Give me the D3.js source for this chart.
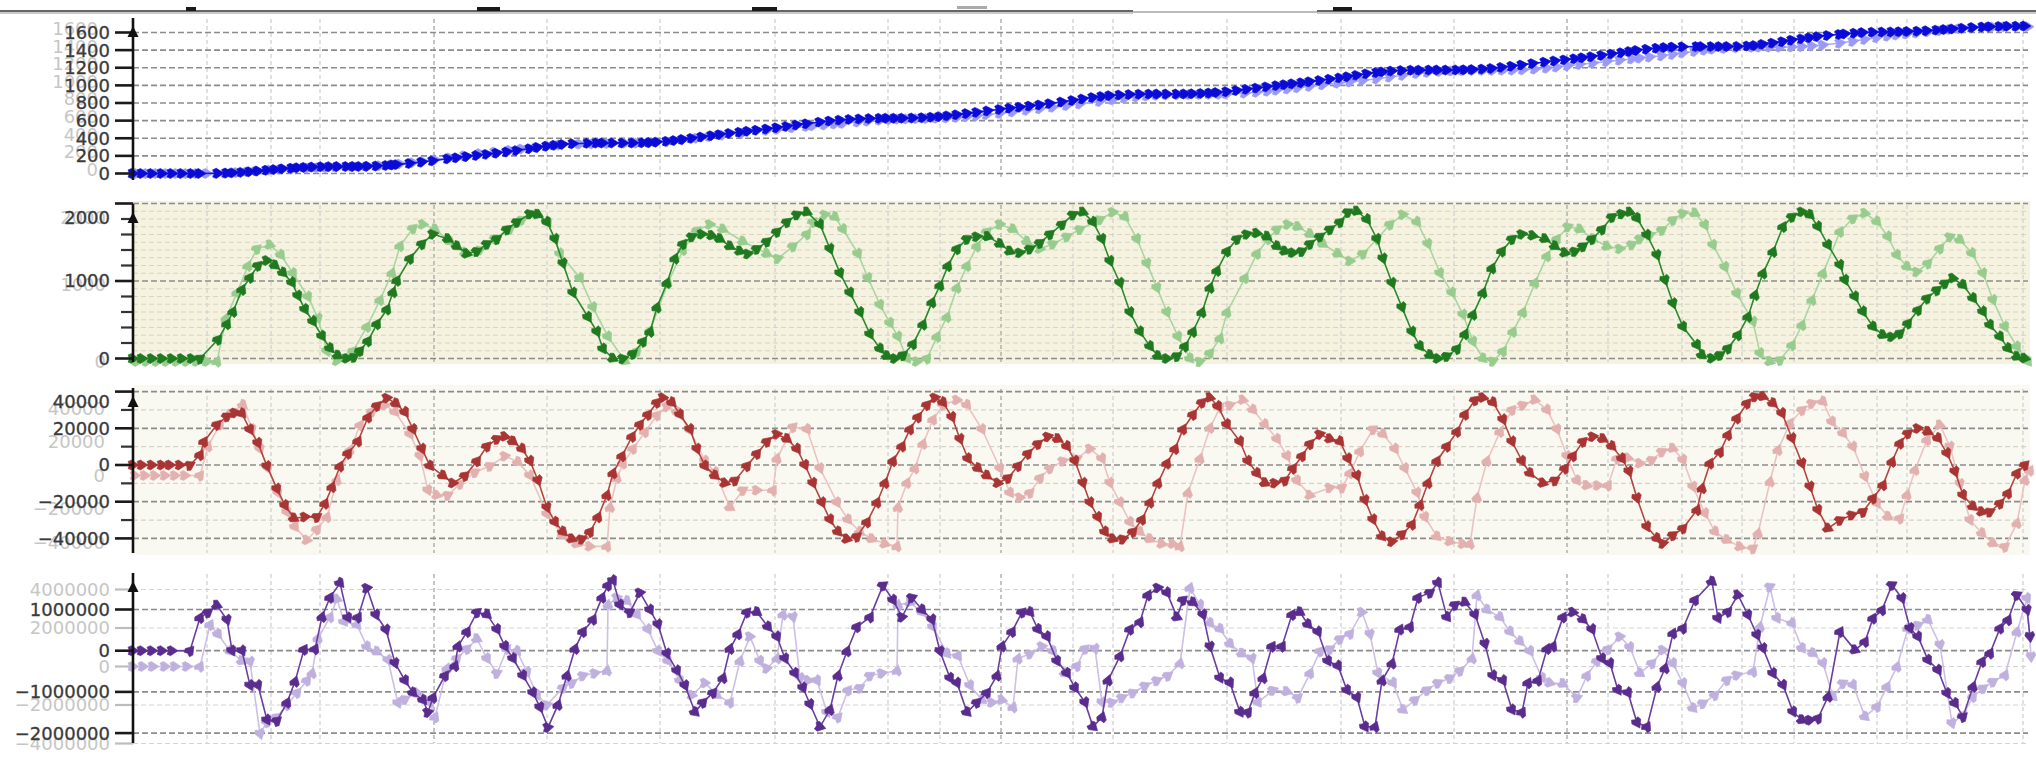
<!DOCTYPE html>
<html><head><meta charset="utf-8">
<script src="https://cdn.jsdelivr.net/npm/d3@7"></script>
<style>
html,body{margin:0;padding:0;background:#fff;}
svg{display:block;}
text{font-family:"DejaVu Sans",sans-serif;}
</style></head><body>
<svg id="chart" width="2036" height="765"></svg>
<script>
// ---------- DATA: [time (ms), value] ----------
const positionDark = [[0,0],[9,0],[19,0],[29,0],[39,0],[49,0],[59,0],[67,0],[85,2],[94,5],[100,8],[109,14],[117,21],[125,29],[134,38],[142,46],[150,54],[159,61],[165,66],[172,70],[180,74],[189,77],[197,78],[205,79],[214,79],[221,80],[227,80],[235,82],[244,86],[254,92],[260,98],[264,102],[277,115],[289,130],[300,145],[315,168],[324,180],[334,193],[344,206],[354,219],[364,232],[374,246],[384,262],[397,283],[405,297],[414,311],[422,322],[430,331],[440,338],[455,343],[464,345],[470,346],[480,346],[490,346],[500,347],[510,349],[517,352],[524,357],[534,366],[542,376],[550,388],[559,401],[569,416],[579,431],[587,443],[597,457],[607,470],[615,481],[624,493],[634,507],[644,521],[654,536],[664,552],[674,566],[687,585],[697,597],[707,607],[717,615],[727,620],[737,624],[747,626],[754,627],[762,627],[770,628],[780,630],[790,634],[799,640],[807,647],[815,656],[824,668],[834,682],[844,696],[855,712],[867,729],[877,742],[887,754],[897,767],[907,780],[917,795],[929,813],[940,831],[950,848],[960,864],[969,876],[977,885],[987,892],[997,897],[1007,900],[1017,901],[1025,902],[1034,902],[1044,902],[1052,903],[1060,905],[1069,909],[1077,914],[1084,920],[1094,930],[1104,943],[1114,957],[1124,971],[1134,985],[1144,999],[1152,1010],[1160,1020],[1169,1032],[1177,1043],[1187,1057],[1197,1072],[1207,1087],[1215,1100],[1224,1116],[1234,1133],[1244,1147],[1250,1155],[1259,1163],[1269,1169],[1279,1172],[1287,1173],[1297,1174],[1305,1174],[1314,1174],[1324,1175],[1332,1177],[1340,1180],[1350,1186],[1359,1194],[1369,1206],[1379,1219],[1389,1233],[1400,1249],[1412,1266],[1422,1279],[1432,1291],[1442,1304],[1450,1315],[1459,1327],[1469,1342],[1479,1357],[1489,1373],[1497,1387],[1504,1398],[1514,1412],[1524,1423],[1532,1430],[1540,1435],[1550,1438],[1564,1440],[1569,1440],[1579,1440],[1587,1440],[1595,1441],[1605,1443],[1615,1448],[1622,1454],[1630,1468],[1640,1482],[1650,1498],[1659,1515],[1669,1530],[1677,1543],[1685,1555],[1695,1567],[1707,1580],[1712,1585],[1722,1594],[1730,1600],[1740,1604],[1750,1606],[1759,1607],[1767,1609],[1775,1612],[1785,1616],[1794,1621],[1804,1628],[1812,1635],[1820,1642],[1830,1650],[1840,1657],[1850,1663],[1857,1666],[1867,1669],[1875,1671],[1884,1672],[1892,1673]];

const positionLight = [[4,0],[14,0],[24,0],[34,0],[44,0],[54,0],[64,0],[74,0],[84,0],[93,4],[104,12],[115,22],[124,30],[137,40],[148,48],[160,56],[175,62],[185,65],[194,67],[204,70],[220,75],[234,80],[247,90],[259,102],[267,110],[280,124],[290,137],[302,155],[317,180],[332,205],[347,228],[362,245],[377,265],[389,280],[404,300],[415,315],[427,326],[447,334],[460,337],[475,340],[492,343],[504,345],[517,350],[535,365],[550,385],[564,402],[577,420],[590,436],[610,460],[634,490],[645,503],[660,520],[674,535],[680,542],[692,552],[702,562],[710,570],[725,585],[735,595],[747,605],[757,612],[765,617],[774,620],[784,622],[794,624],[804,627],[814,631],[824,637],[834,645],[844,655],[854,667],[867,683],[880,700],[894,718],[907,735],[920,752],[934,772],[947,790],[967,818],[980,838],[992,855],[1004,870],[1014,880],[1024,887],[1034,891],[1045,894],[1057,895],[1067,896],[1077,897],[1087,899],[1094,902],[1112,912],[1124,922],[1135,934],[1144,946],[1155,960],[1165,974],[1177,990],[1190,1007],[1205,1026],[1217,1040],[1230,1056],[1244,1075],[1257,1095],[1270,1115],[1284,1135],[1295,1148],[1307,1158],[1319,1164],[1330,1167],[1340,1169],[1350,1170],[1360,1170],[1370,1171],[1380,1173],[1390,1177],[1402,1185],[1414,1196],[1424,1208],[1435,1222],[1447,1237],[1460,1253],[1474,1270],[1487,1286],[1499,1300],[1507,1310],[1517,1322],[1529,1336],[1540,1352],[1550,1368],[1562,1386],[1572,1400],[1580,1410],[1592,1420],[1604,1427],[1620,1432],[1627,1433],[1637,1434],[1647,1434],[1659,1436],[1669,1440],[1679,1447],[1690,1458],[1707,1480],[1720,1500],[1732,1522],[1744,1543],[1755,1560],[1764,1572],[1774,1584],[1784,1595],[1795,1608],[1807,1622],[1817,1635],[1827,1645],[1839,1654],[1850,1660],[1860,1663],[1872,1665],[1884,1666],[1895,1666]];

const velocityDark = [[0,0],[9,0],[19,0],[29,0],[39,0],[49,0],[59,0],[67,0],[85,245],[94,446],[100,604],[109,888],[117,1045],[125,1200],[134,1265],[142,1200],[150,1107],[159,980],[165,810],[172,635],[180,478],[189,290],[197,132],[205,38],[214,0],[221,20],[227,100],[235,226],[244,446],[254,635],[260,855],[264,1006],[277,1290],[289,1479],[300,1605],[315,1542],[324,1448],[334,1352],[344,1384],[354,1479],[364,1542],[374,1667],[384,1761],[397,1868],[405,1857],[414,1761],[422,1542],[430,1227],[440,849],[455,535],[464,346],[470,125],[480,0],[490,0],[500,62],[510,219],[517,346],[524,660],[534,975],[542,1290],[550,1479],[559,1573],[569,1605],[579,1586],[587,1542],[597,1448],[607,1384],[615,1352],[624,1415],[634,1510],[644,1636],[654,1761],[664,1857],[674,1888],[687,1730],[697,1415],[707,1101],[717,849],[727,597],[737,315],[747,125],[754,31],[762,0],[770,44],[780,188],[790,440],[799,724],[807,943],[815,1195],[824,1415],[834,1542],[844,1573],[855,1573],[867,1479],[877,1384],[887,1365],[897,1415],[907,1492],[917,1605],[929,1730],[940,1857],[950,1888],[960,1761],[969,1542],[977,1258],[987,975],[997,597],[1007,346],[1017,157],[1025,31],[1034,0],[1044,31],[1052,157],[1060,346],[1069,597],[1077,912],[1084,1133],[1094,1384],[1104,1542],[1114,1605],[1124,1617],[1134,1573],[1144,1448],[1152,1384],[1160,1365],[1169,1384],[1177,1479],[1187,1573],[1197,1667],[1207,1761],[1215,1888],[1224,1900],[1234,1794],[1244,1542],[1250,1290],[1259,975],[1269,660],[1279,346],[1287,157],[1297,44],[1305,0],[1314,31],[1324,125],[1332,315],[1340,566],[1350,849],[1359,1164],[1369,1384],[1379,1542],[1389,1605],[1400,1586],[1412,1542],[1422,1448],[1432,1365],[1442,1384],[1450,1448],[1459,1542],[1469,1667],[1479,1826],[1489,1868],[1497,1888],[1504,1809],[1514,1594],[1524,1335],[1532,1013],[1540,712],[1550,410],[1564,174],[1569,45],[1579,3],[1587,45],[1595,131],[1605,303],[1615,540],[1622,819],[1630,1099],[1640,1378],[1650,1701],[1659,1830],[1669,1894],[1677,1852],[1685,1701],[1695,1465],[1707,1206],[1712,1013],[1722,798],[1730,604],[1740,410],[1750,303],[1759,281],[1767,325],[1775,454],[1785,626],[1794,777],[1804,884],[1812,970],[1820,1035],[1830,948],[1840,777],[1850,604],[1857,432],[1867,281],[1875,131],[1884,23],[1892,3]];

const velocityLight = [[4,0],[14,0],[24,0],[34,0],[44,0],[54,0],[64,0],[74,0],[84,0],[93,560],[104,894],[115,1242],[124,1464],[137,1513],[148,1383],[160,1145],[175,841],[185,560],[194,134],[204,10],[220,136],[234,452],[247,799],[259,1149],[267,1500],[280,1730],[290,1781],[302,1717],[317,1560],[332,1420],[347,1450],[362,1600],[377,1720],[389,1840],[404,1908],[415,1800],[427,1400],[447,1084],[460,704],[475,323],[492,6],[504,134],[517,400],[535,1021],[550,1450],[564,1700],[577,1781],[590,1717],[610,1558],[634,1400],[645,1338],[660,1496],[674,1655],[680,1812],[692,1908],[702,1877],[710,1717],[725,1400],[735,1084],[747,735],[757,500],[765,323],[774,39],[784,0],[794,39],[804,323],[814,578],[824,957],[834,1242],[844,1496],[854,1686],[867,1781],[880,1717],[894,1558],[907,1464],[920,1527],[934,1622],[947,1717],[967,1844],[980,1939],[992,1877],[1004,1591],[1014,1274],[1024,957],[1034,640],[1045,323],[1057,39],[1067,0],[1077,110],[1087,300],[1094,640],[1112,1084],[1124,1400],[1135,1591],[1144,1717],[1155,1781],[1165,1749],[1177,1655],[1190,1527],[1205,1400],[1217,1305],[1230,1400],[1244,1591],[1257,1781],[1270,1908],[1284,1812],[1295,1527],[1307,1147],[1319,894],[1330,609],[1340,260],[1350,39],[1360,6],[1370,134],[1380,387],[1390,640],[1402,1021],[1414,1369],[1424,1591],[1435,1749],[1447,1717],[1460,1591],[1474,1496],[1487,1464],[1499,1520],[1507,1595],[1517,1643],[1529,1708],[1540,1838],[1550,1925],[1562,1925],[1572,1773],[1580,1513],[1592,1227],[1604,881],[1620,517],[1627,106],[1637,0],[1647,19],[1659,214],[1669,474],[1679,799],[1690,1145],[1707,1686],[1720,1860],[1732,1925],[1744,1816],[1755,1621],[1764,1383],[1774,1231],[1784,1166],[1795,1275],[1807,1470],[1817,1621],[1827,1578],[1839,1405],[1850,1145],[1860,799],[1872,452],[1884,192],[1895,0]];

const accelerationDark = [[0,0],[9,0],[19,0],[29,0],[37,0],[47,0],[57,0],[67,5500],[71,12700],[84,22000],[94,26500],[102,28500],[109,28000],[117,19300],[125,12000],[134,-700],[144,-13000],[152,-22000],[161,-29000],[172,-28300],[184,-28300],[192,-21000],[199,-12000],[207,-700],[215,6300],[225,13000],[235,26000],[244,32300],[254,36500],[263,33500],[272,28800],[280,19500],[289,8800],[297,-500],[310,-5800],[320,-9800],[332,-5800],[344,2200],[354,10200],[364,14200],[372,15500],[380,12800],[389,8800],[397,2200],[405,-8400],[414,-23100],[422,-31100],[430,-36400],[439,-40300],[449,-40300],[457,-36400],[465,-28400],[474,-16400],[480,-4500],[489,4900],[499,15500],[507,22100],[515,27500],[524,34100],[530,36700],[539,34100],[547,27500],[557,19500],[564,8800],[572,-500],[582,-5800],[592,-9800],[602,-8400],[614,-500],[624,6200],[634,12800],[644,16800],[654,14200],[664,8800],[672,0],[680,-9800],[689,-20400],[697,-29700],[705,-36400],[714,-40300],[724,-39000],[734,-31100],[744,-20400],[752,-9800],[760,2200],[769,10200],[777,19500],[785,26100],[794,32800],[802,36700],[810,34100],[819,26100],[827,14200],[835,3500],[845,-1800],[854,-5800],[865,-9800],[875,-7100],[885,-500],[895,6200],[905,11500],[915,15500],[925,14200],[934,10200],[942,2200],[950,-9800],[957,-20400],[965,-28400],[972,-36400],[980,-40300],[990,-40300],[1000,-36400],[1009,-29700],[1017,-20400],[1025,-9800],[1034,900],[1042,8800],[1050,19500],[1060,27500],[1069,34100],[1077,36700],[1085,32000],[1094,22100],[1107,12800],[1115,2200],[1124,-4500],[1132,-9800],[1142,-9800],[1152,-8400],[1160,-1800],[1169,4900],[1177,11500],[1187,16800],[1197,14200],[1207,12800],[1215,3500],[1224,-5800],[1232,-19100],[1240,-29700],[1249,-39000],[1259,-41700],[1269,-37700],[1279,-32400],[1287,-21700],[1295,-9800],[1304,2200],[1314,10200],[1324,18200],[1332,27500],[1342,35400],[1350,36700],[1360,34100],[1370,24800],[1379,12800],[1389,2200],[1397,-4500],[1410,-9800],[1422,-8400],[1432,-1800],[1440,4900],[1450,12800],[1460,15500],[1470,14200],[1479,10200],[1489,3500],[1496,-3500],[1504,-18000],[1514,-33600],[1524,-40000],[1530,-42700],[1540,-38200],[1550,-34500],[1564,-24500],[1569,-12700],[1577,900],[1587,7200],[1595,16400],[1604,25500],[1614,33600],[1622,37300],[1630,37300],[1640,33600],[1649,28200],[1659,14600],[1669,900],[1677,-11800],[1685,-24500],[1695,-34500],[1707,-30000],[1719,-27200],[1730,-25500],[1740,-18100],[1750,-10900],[1759,1800],[1767,11800],[1775,17300],[1785,20000],[1795,18200],[1805,14600],[1814,6400],[1822,-3600],[1830,-16400],[1840,-22700],[1849,-25500],[1857,-25500],[1867,-20900],[1875,-15400],[1884,-4500],[1892,0]];

const accelerationLight = [[2,0],[12,0],[22,0],[32,0],[42,0],[52,0],[67,0],[75,17400],[87,30500],[99,37800],[110,42100],[119,27600],[127,15900],[135,4300],[145,-10300],[154,-21900],[162,-30600],[174,-38500],[184,-32100],[194,-24800],[204,-2700],[217,15200],[227,30100],[239,38000],[252,42000],[262,38000],[277,24700],[287,11600],[295,-8800],[304,-11700],[315,-11700],[327,-5000],[342,2000],[357,5700],[372,11600],[385,8000],[397,0],[414,-23000],[430,-36000],[444,-40800],[457,-42300],[474,-42300],[477,-19000],[484,-1500],[490,7200],[500,16000],[512,26000],[524,36000],[534,41000],[544,38000],[557,27000],[572,8700],[582,2000],[597,-19000],[610,-8800],[624,-8800],[640,-8800],[644,10100],[660,29000],[674,27600],[687,4300],[704,-16100],[715,-26300],[727,-33600],[739,-37900],[752,-40800],[764,-42300],[765,-19000],[774,-4400],[782,4300],[790,18900],[800,33400],[810,42100],[824,45100],[834,42100],[849,27600],[867,4300],[877,-10300],[887,-13200],[897,-10300],[907,-1500],[917,4300],[930,8700],[944,10100],[957,15900],[969,10100],[977,-4400],[987,-16100],[997,-27800],[1007,-33600],[1017,-37900],[1029,-40800],[1040,-40800],[1047,-42300],[1055,-10300],[1067,10100],[1077,28400],[1087,40700],[1097,42100],[1110,45100],[1120,39200],[1132,30500],[1144,21800],[1154,11600],[1164,-3000],[1177,-11700],[1197,-7300],[1209,-7300],[1217,1400],[1227,14500],[1240,27600],[1250,24700],[1262,15900],[1272,4300],[1284,-10300],[1292,-24800],[1304,-36500],[1317,-39400],[1330,-40800],[1337,-40800],[1344,-13200],[1354,8700],[1367,26100],[1379,39200],[1390,42100],[1402,45100],[1414,39200],[1424,27600],[1434,11600],[1444,-3000],[1454,-5900],[1465,-5900],[1475,-5900],[1484,10100],[1495,10500],[1507,7300],[1519,9300],[1529,14200],[1540,16200],[1550,9300],[1560,-6700],[1572,-22600],[1582,-33500],[1594,-38500],[1607,-42500],[1620,-43500],[1625,-34500],[1637,-3700],[1645,15200],[1657,31200],[1669,39100],[1679,43100],[1690,44100],[1699,32100],[1710,25200],[1720,17200],[1732,-700],[1744,-16600],[1755,-24600],[1767,-25600],[1774,-11600],[1782,3300],[1794,21200],[1807,30100],[1817,17200],[1827,-5000],[1837,-26600],[1849,-34500],[1860,-40500],[1872,-42500],[1884,-28500],[1892,-2700],[1897,3000]];

const jerkDark = [[0,0],[9,0],[19,0],[29,0],[39,0],[57,0],[67,800000],[75,930000],[84,1100000],[94,750000],[99,0],[109,0],[117,-840000],[125,-840000],[134,-1680000],[144,-1700000],[154,-1260000],[162,-750000],[171,30000],[182,40000],[189,820000],[197,1290000],[207,1640000],[215,800000],[225,810000],[234,1520000],[243,870000],[253,510000],[262,-300000],[272,-723000],[280,-1019000],[290,-1197000],[295,-1493000],[300,-1138000],[312,-604000],[322,-369000],[325,107000],[334,461000],[344,934000],[354,876000],[364,519000],[372,107000],[380,-189000],[390,-604000],[400,-1019000],[407,-1374000],[415,-1862000],[425,-1316000],[434,-604000],[442,46000],[450,461000],[460,757000],[469,1289000],[475,1585000],[480,1704000],[487,1112000],[497,934000],[507,1408000],[517,993000],[525,638000],[534,-73000],[544,-485000],[552,-842000],[562,-1493000],[570,-1255000],[580,-1019000],[590,-663000],[597,46000],[605,403000],[614,934000],[624,934000],[635,580000],[644,342000],[652,-189000],[662,-546000],[670,-900000],[677,-1300000],[687,-1847000],[697,-1434000],[705,-604000],[714,-12000],[724,580000],[737,815000],[750,1585000],[760,1231000],[769,815000],[779,1289000],[789,993000],[799,757000],[807,-12000],[817,-663000],[824,-781000],[834,-1493000],[844,-1255000],[854,-1019000],[864,-604000],[869,107000],[879,461000],[889,934000],[897,934000],[905,519000],[914,342000],[924,-250000],[934,-546000],[942,-900000],[952,-1255000],[960,-1847000],[969,-1612000],[975,-723000],[987,-131000],[997,519000],[1007,697000],[1015,1349000],[1025,1527000],[1034,1408000],[1044,815000],[1050,1231000],[1060,1172000],[1070,876000],[1077,100000],[1087,-663000],[1097,-781000],[1107,-1493000],[1115,-1493000],[1122,-1019000],[1130,-663000],[1139,107000],[1149,107000],[1159,876000],[1167,934000],[1175,638000],[1185,461000],[1195,-250000],[1205,-369000],[1214,-959000],[1224,-1138000],[1232,-1847000],[1242,-1847000],[1249,-723000],[1259,-308000],[1267,519000],[1277,580000],[1285,1289000],[1297,1408000],[1305,1646000],[1314,815000],[1322,1112000],[1332,1172000],[1342,876000],[1352,165000],[1360,-604000],[1370,-723000],[1379,-1434000],[1389,-1493000],[1395,-781000],[1405,-723000],[1414,46000],[1420,107000],[1430,815000],[1440,934000],[1450,757000],[1459,519000],[1469,-189000],[1477,-308000],[1485,-959000],[1495,-1019000],[1504,-1750000],[1514,-1845000],[1524,-874000],[1532,-427000],[1540,422000],[1550,544000],[1562,1231000],[1579,1675000],[1585,786000],[1595,947000],[1605,1352000],[1615,867000],[1624,381000],[1630,58000],[1640,-549000],[1650,-833000],[1660,-1481000],[1669,-1682000],[1677,-1682000],[1685,-1641000],[1695,-1117000],[1707,461000],[1722,17000],[1732,218000],[1740,786000],[1749,988000],[1759,1595000],[1769,1272000],[1777,544000],[1785,340000],[1795,-226000],[1805,-468000],[1814,-1034000],[1822,-1277000],[1830,-1602000],[1840,-874000],[1849,-267000],[1857,-63000],[1867,544000],[1875,745000],[1884,1352000],[1894,988000],[1897,340000]];

const jerkLight = [[0,0],[10,0],[20,0],[32,0],[42,0],[54,0],[67,0],[77,2170000],[85,1683000],[97,795000],[109,286000],[117,249000],[127,-3500000],[134,-2883000],[144,-2629000],[154,-2000000],[164,-1361000],[174,-727000],[179,-353000],[185,1465000],[197,2566000],[204,3500000],[211,2327000],[224,2156000],[234,1029000],[244,769000],[255,338000],[265,-1900000],[272,-1700000],[284,-1361000],[297,-1865000],[302,-2629000],[314,-94000],[324,416000],[334,919000],[344,1429000],[354,416000],[364,-348000],[374,919000],[384,795000],[394,-300000],[404,-1486000],[414,-1995000],[430,-1106000],[439,-852000],[450,-473000],[462,-348000],[474,-218000],[475,3200000],[484,3579000],[494,3400000],[504,2696000],[515,1932000],[525,795000],[535,286000],[547,-727000],[559,-1486000],[572,-852000],[584,-1486000],[597,-1865000],[607,286000],[617,1553000],[627,286000],[634,-94000],[644,416000],[650,2696000],[660,2566000],[667,-597000],[675,-727000],[684,-727000],[694,-2374000],[705,-2629000],[715,-1231000],[727,-1106000],[737,-473000],[749,-348000],[764,-218000],[765,3200000],[777,3330000],[789,2821000],[800,2062000],[814,665000],[825,540000],[837,-982000],[849,-1740000],[859,-1865000],[869,-1740000],[880,-2120000],[885,416000],[897,665000],[909,1049000],[920,800000],[932,-348000],[944,31000],[952,919000],[962,919000],[969,-1865000],[979,-1865000],[989,-1615000],[1000,-1361000],[1012,-1000000],[1024,-727000],[1035,-473000],[1047,161000],[1057,4088000],[1067,3200000],[1077,2250000],[1087,1950000],[1097,1174000],[1109,665000],[1119,416000],[1125,-1865000],[1140,-1231000],[1154,-1300000],[1165,-1615000],[1177,-348000],[1187,795000],[1197,900000],[1207,1429000],[1217,1700000],[1229,2821000],[1237,1683000],[1245,-348000],[1260,-852000],[1270,-2249000],[1282,-1740000],[1294,-1231000],[1305,-852000],[1317,-600000],[1327,-218000],[1339,416000],[1344,3709000],[1354,2945000],[1367,2566000],[1377,1808000],[1387,1300000],[1397,795000],[1409,-597000],[1417,-852000],[1430,-900000],[1444,-1615000],[1454,-473000],[1464,286000],[1475,900000],[1487,1553000],[1497,1000000],[1507,-350000],[1519,166000],[1530,857000],[1540,166000],[1550,-873000],[1560,-2171000],[1570,-1912000],[1582,-1481000],[1594,-701000],[1604,-442000],[1620,-270000],[1627,2067000],[1637,4145000],[1644,2504000],[1659,2244000],[1669,945000],[1680,686000],[1690,166000],[1700,-1569000],[1710,-873000],[1720,-961000],[1732,-2608000],[1744,-2088000],[1754,-1049000],[1764,-10000],[1775,1984000],[1785,2156000],[1795,2416000],[1807,1117000],[1819,-2951000],[1830,-2519000],[1840,-1569000],[1850,-1133000],[1860,-790000],[1872,-442000],[1884,1808000],[1894,3543000],[1898,509000]];

// axis tick values
const positionTicks = [0,200,400,600,800,1000,1200,1400,1600];
const velocityTicks = [0,1000,2000];
const accelerationTicks = [40000,20000,0,-20000,-40000];
const jerkTicksDark = [1000000,0,-1000000,-2000000];
const jerkTicksLight = [4000000,2000000,0,-2000000,-4000000];
// time grid (ms)
const timeGrid = [74,138,187,301,414,527,642,755,807,868,940,980,1094,1208,1321,1434,1475,1549,1609,1661,1744,1774,1890];
const timeGridMajor = [301,868,1434];

// ---------- DRAW ----------
const svg = d3.select('#chart');
const AXX = 133, RIGHT = 2028;
const x = d3.scaleLinear().domain([0,1900]).range([133,2033]);

// top bar remnant
svg.append('rect').attr('x',0).attr('y',10).attr('width',1133).attr('height',2).attr('fill','#666');
svg.append('rect').attr('x',0).attr('y',12).attr('width',1133).attr('height',2).attr('fill','#c9c9c9');
svg.append('rect').attr('x',1133).attr('y',11).attr('width',184).attr('height',2).attr('fill','#bbb');
svg.append('rect').attr('x',1317).attr('y',10).attr('width',719).attr('height',2).attr('fill','#666');
svg.append('rect').attr('x',1317).attr('y',12).attr('width',719).attr('height',2).attr('fill','#c9c9c9');
[[186,10],[477,23],[752,25],[1333,19]].forEach(d=>svg.append('rect').attr('x',d[0]).attr('y',7).attr('width',d[1]).attr('height',4).attr('fill','#1a1a1a'));
svg.append('rect').attr('x',957).attr('y',6).attr('width',30).attr('height',3).attr('fill','#aaa');

const panels = [
  {top:18,bottom:180,bg:null,
   yD:d3.scaleLinear().domain([0,1600]).range([173.5,32.5]),
   yL:d3.scaleLinear().domain([0,1600]).range([173.5,32.5]),
   major:positionTicks, faint:[], ticksMajor:positionTicks, ticksMinor:[],
   labels:positionTicks, ghost:positionTicks, ghostDx:-12, ghostDy:-4, ghostTicks:[],
   dark:positionDark, light:positionLight,
   cD:'#1616ee', mD:'#0b0bd8', cL:'#a9a9ff', mL:'#9a9af6'},
  {top:204,bottom:362,bg:[201,364,'#f5f2df'],
   yD:d3.scaleLinear().domain([0,2000]).range([358.5,203.5]),
   yL:d3.scaleLinear().domain([0,2000]).range([361.5,207.5]),
   major:velocityTicks, faint:d3.range(100,2000,100).filter(v=>v%1000), ticksMajor:velocityTicks, ticksMinor:d3.range(200,2000,200).filter(v=>v%1000),
   labels:velocityTicks, ghost:velocityTicks, ghostDx:-4, ghostDy:0, ghostTicks:[],
   dark:velocityDark, light:velocityLight,
   cD:'#2b8a2b', mD:'#1f7a1f', cL:'#a9d6a0', mL:'#98cc8e'},
  {top:388,bottom:553,bg:[385,555,'#faf9f1'],
   yD:d3.scaleLinear().domain([-40000,40000]).range([538.4,391.6]),
   yL:d3.scaleLinear().domain([-40000,40000]).range([542.5,408.5]),
   major:accelerationTicks, faint:[30000,10000,-10000,-30000], ticksMajor:accelerationTicks, ticksMinor:[30000,10000,-10000,-30000],
   labels:accelerationTicks, ghost:accelerationTicks, ghostDx:-5, ghostDy:0, ghostTicks:[],
   dark:accelerationDark, light:accelerationLight,
   cD:'#b4453f', mD:'#a83434', cL:'#ebc3c3', mL:'#e3b0b0'},
  {top:573,bottom:743,bg:null,
   yD:d3.scaleLinear().domain([-2000000,1000000]).range([733.1,609.5]),
   yL:d3.scaleLinear().domain([-4000000,4000000]).range([743.5,589.5]),
   major:jerkTicksDark, faint:[], faintL:jerkTicksLight, ticksMajor:jerkTicksDark, ticksMinor:[],
   labels:jerkTicksDark, ghost:jerkTicksLight, ghostDx:0, ghostDy:0, ghostTicks:jerkTicksLight,
   dark:jerkDark, light:jerkLight,
   cD:'#6a3e9e', mD:'#5a2c8e', cL:'#cdbfe5', mL:'#c0b0de'}
];

// chunky arrow-like marker pointing along the line
const markerPath = 'M6,0L-1.5,-5L-5,-3.5L-3.5,0L-5,3.5L-1.5,5Z';

function drawSeries(g, data, y, lineColor, markColor){
  const pts = data.map(d=>[x(d[0]), y(d[1])]);
  g.append('path').attr('d', d3.line()(pts)).attr('fill','none')
    .attr('stroke', lineColor).attr('stroke-width',1.6);
  g.selectAll(null).data(pts).enter().append('path')
    .attr('d', markerPath)
    .attr('fill', markColor)
    .attr('stroke', markColor).attr('stroke-width',0.6)
    .attr('transform', (p,i)=>{
      const a = pts[Math.max(0,i-1)], b = pts[Math.min(pts.length-1,i+1)];
      const ang = Math.atan2(b[1]-a[1], b[0]-a[0])*180/Math.PI;
      return `translate(${p[0]},${p[1]}) rotate(${ang})`;
    });
}

panels.forEach(p=>{
  const g = svg.append('g');
  if (p.bg) g.append('rect').attr('x',AXX).attr('y',p.bg[0]).attr('width',RIGHT-AXX+2).attr('height',p.bg[1]-p.bg[0]).attr('fill',p.bg[2]);
  g.selectAll(null).data(timeGrid).enter().append('line')
    .attr('x1',d=>x(d)).attr('x2',d=>x(d)).attr('y1',p.top+1).attr('y2',p.bottom)
    .attr('stroke',d=>timeGridMajor.includes(d)?'#a5a5a5':'#d2d2d2')
    .attr('stroke-width',1.3).attr('stroke-dasharray','4,3');
  g.selectAll(null).data(p.faint).enter().append('line')
    .attr('x1',AXX).attr('x2',RIGHT).attr('y1',d=>p.yD(d)).attr('y2',d=>p.yD(d))
    .attr('stroke','#d6d4c6').attr('stroke-width',1.2).attr('stroke-dasharray','5,3');
  if (p.faintL) g.selectAll(null).data(p.faintL).enter().append('line')
    .attr('x1',AXX).attr('x2',RIGHT).attr('y1',d=>p.yL(d)).attr('y2',d=>p.yL(d))
    .attr('stroke','#d4d4d4').attr('stroke-width',1.2).attr('stroke-dasharray','5,3');
  g.selectAll(null).data(p.major).enter().append('line')
    .attr('x1',AXX).attr('x2',RIGHT).attr('y1',d=>p.yD(d)).attr('y2',d=>p.yD(d))
    .attr('stroke','#8c8c8c').attr('stroke-width',1.7).attr('stroke-dasharray','6,3');
  drawSeries(g, p.light, p.yL, p.cL, p.mL);
  drawSeries(g, p.dark, p.yD, p.cD, p.mD);
  g.selectAll(null).data(p.ghostTicks).enter().append('line')
    .attr('x1',115).attr('x2',AXX).attr('y1',d=>p.yL(d)).attr('y2',d=>p.yL(d))
    .attr('stroke','#bdbdbd').attr('stroke-width',2.2);
  g.selectAll(null).data(p.ticksMinor).enter().append('line')
    .attr('x1',121).attr('x2',AXX).attr('y1',d=>p.yD(d)).attr('y2',d=>p.yD(d))
    .attr('stroke','#333').attr('stroke-width',2.2);
  g.selectAll(null).data(p.ticksMajor).enter().append('line')
    .attr('x1',115).attr('x2',AXX).attr('y1',d=>p.yD(d)).attr('y2',d=>p.yD(d))
    .attr('stroke','#1a1a1a').attr('stroke-width',2.6);
  g.append('line').attr('x1',AXX).attr('x2',AXX).attr('y1',p.top).attr('y2',p.bottom)
    .attr('stroke','#111').attr('stroke-width',2.6);
  g.append('path').attr('d',`M${AXX},${p.top+8}L${AXX-5.5},${p.top+19}L${AXX+5.5},${p.top+19}Z`).attr('fill','#111');
  const fmt = d3.format('d');
  const ly = (s,v)=>Math.max(s(v), p.top+14);
  g.selectAll(null).data(p.ghost).enter().append('text')
    .attr('x',110+p.ghostDx).attr('y',d=>ly(p.yL,d)+p.ghostDy).attr('dy','0.36em')
    .attr('text-anchor','end').attr('font-size',18).attr('fill','#c6c6c6').text(fmt);
  g.selectAll(null).data(p.labels).enter().append('text')
    .attr('x',110).attr('y',d=>ly(p.yD,d)).attr('dy','0.36em')
    .attr('text-anchor','end').attr('font-size',18).attr('fill','#3a3a3a')
    .attr('stroke','#3a3a3a').attr('stroke-width',0.3).text(fmt);
});
</script>
</body></html>
